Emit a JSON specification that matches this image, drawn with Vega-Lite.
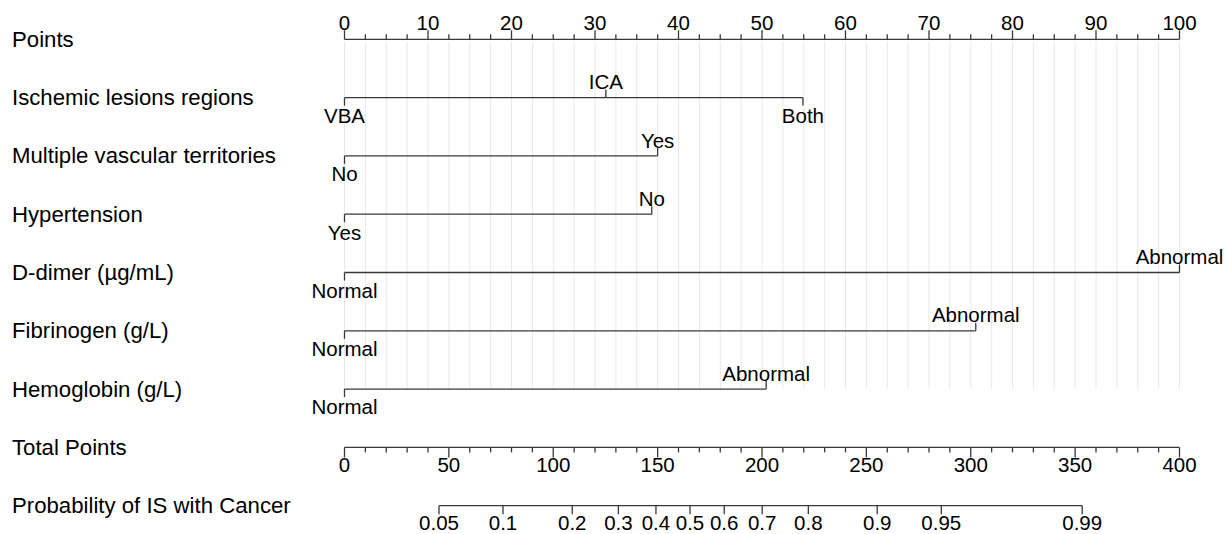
{
  "$schema": "https://vega.github.io/schema/vega-lite/v6.json",
  "width": 835,
  "height": 466.4,
  "autosize": {"type": "none"},
  "padding": {"left": 344.5, "top": 39.3, "right": 46.5, "bottom": 28.3},
  "background": "white",
  "config": {"view": {"stroke": null}, "font": "Liberation Sans"},
  "datasets": {
    "pts": [
      {"row": "Points", "end": "Hemoglobin (g/L)", "v": 0, "major": true},
      {"row": "Points", "end": "Hemoglobin (g/L)", "v": 2.5, "major": false},
      {"row": "Points", "end": "Hemoglobin (g/L)", "v": 5, "major": false},
      {"row": "Points", "end": "Hemoglobin (g/L)", "v": 7.5, "major": false},
      {"row": "Points", "end": "Hemoglobin (g/L)", "v": 10, "major": true},
      {"row": "Points", "end": "Hemoglobin (g/L)", "v": 12.5, "major": false},
      {"row": "Points", "end": "Hemoglobin (g/L)", "v": 15, "major": false},
      {"row": "Points", "end": "Hemoglobin (g/L)", "v": 17.5, "major": false},
      {"row": "Points", "end": "Hemoglobin (g/L)", "v": 20, "major": true},
      {"row": "Points", "end": "Hemoglobin (g/L)", "v": 22.5, "major": false},
      {"row": "Points", "end": "Hemoglobin (g/L)", "v": 25, "major": false},
      {"row": "Points", "end": "Hemoglobin (g/L)", "v": 27.5, "major": false},
      {"row": "Points", "end": "Hemoglobin (g/L)", "v": 30, "major": true},
      {"row": "Points", "end": "Hemoglobin (g/L)", "v": 32.5, "major": false},
      {"row": "Points", "end": "Hemoglobin (g/L)", "v": 35, "major": false},
      {"row": "Points", "end": "Hemoglobin (g/L)", "v": 37.5, "major": false},
      {"row": "Points", "end": "Hemoglobin (g/L)", "v": 40, "major": true},
      {"row": "Points", "end": "Hemoglobin (g/L)", "v": 42.5, "major": false},
      {"row": "Points", "end": "Hemoglobin (g/L)", "v": 45, "major": false},
      {"row": "Points", "end": "Hemoglobin (g/L)", "v": 47.5, "major": false},
      {"row": "Points", "end": "Hemoglobin (g/L)", "v": 50, "major": true},
      {"row": "Points", "end": "Hemoglobin (g/L)", "v": 52.5, "major": false},
      {"row": "Points", "end": "Hemoglobin (g/L)", "v": 55, "major": false},
      {"row": "Points", "end": "Hemoglobin (g/L)", "v": 57.5, "major": false},
      {"row": "Points", "end": "Hemoglobin (g/L)", "v": 60, "major": true},
      {"row": "Points", "end": "Hemoglobin (g/L)", "v": 62.5, "major": false},
      {"row": "Points", "end": "Hemoglobin (g/L)", "v": 65, "major": false},
      {"row": "Points", "end": "Hemoglobin (g/L)", "v": 67.5, "major": false},
      {"row": "Points", "end": "Hemoglobin (g/L)", "v": 70, "major": true},
      {"row": "Points", "end": "Hemoglobin (g/L)", "v": 72.5, "major": false},
      {"row": "Points", "end": "Hemoglobin (g/L)", "v": 75, "major": false},
      {"row": "Points", "end": "Hemoglobin (g/L)", "v": 77.5, "major": false},
      {"row": "Points", "end": "Hemoglobin (g/L)", "v": 80, "major": true},
      {"row": "Points", "end": "Hemoglobin (g/L)", "v": 82.5, "major": false},
      {"row": "Points", "end": "Hemoglobin (g/L)", "v": 85, "major": false},
      {"row": "Points", "end": "Hemoglobin (g/L)", "v": 87.5, "major": false},
      {"row": "Points", "end": "Hemoglobin (g/L)", "v": 90, "major": true},
      {"row": "Points", "end": "Hemoglobin (g/L)", "v": 92.5, "major": false},
      {"row": "Points", "end": "Hemoglobin (g/L)", "v": 95, "major": false},
      {"row": "Points", "end": "Hemoglobin (g/L)", "v": 97.5, "major": false},
      {"row": "Points", "end": "Hemoglobin (g/L)", "v": 100, "major": true}
    ],
    "lines": [
      {"row": "Points", "a": 0, "b": 100},
      {"row": "Ischemic lesions regions", "a": 0, "b": 54.9},
      {"row": "Multiple vascular territories", "a": 0, "b": 37.5},
      {"row": "Hypertension", "a": 0, "b": 36.8},
      {"row": "D-dimer (µg/mL)", "a": 0, "b": 100},
      {"row": "Fibrinogen (g/L)", "a": 0, "b": 75.6},
      {"row": "Hemoglobin (g/L)", "a": 0, "b": 50.5}
    ],
    "cats": [
      {"row": "Ischemic lesions regions", "v": 0, "label": "VBA", "pos": "below"},
      {"row": "Ischemic lesions regions", "v": 31.3, "label": "ICA", "pos": "above"},
      {"row": "Ischemic lesions regions", "v": 54.9, "label": "Both", "pos": "below"},
      {"row": "Multiple vascular territories", "v": 0, "label": "No", "pos": "below"},
      {"row": "Multiple vascular territories", "v": 37.5, "label": "Yes", "pos": "above"},
      {"row": "Hypertension", "v": 0, "label": "Yes", "pos": "below"},
      {"row": "Hypertension", "v": 36.8, "label": "No", "pos": "above"},
      {"row": "D-dimer (µg/mL)", "v": 0, "label": "Normal", "pos": "below"},
      {"row": "D-dimer (µg/mL)", "v": 100, "label": "Abnormal", "pos": "above"},
      {"row": "Fibrinogen (g/L)", "v": 0, "label": "Normal", "pos": "below"},
      {"row": "Fibrinogen (g/L)", "v": 75.6, "label": "Abnormal", "pos": "above"},
      {"row": "Hemoglobin (g/L)", "v": 0, "label": "Normal", "pos": "below"},
      {"row": "Hemoglobin (g/L)", "v": 50.5, "label": "Abnormal", "pos": "above"}
    ],
    "lines2": [
      {"row": "Total Points", "a": 0, "b": 400},
      {"row": "Probability of IS with Cancer", "a": 45.27, "b": 353.4}
    ],
    "tot": [
      {"row": "Total Points", "v": 0, "major": true},
      {"row": "Total Points", "v": 10, "major": false},
      {"row": "Total Points", "v": 20, "major": false},
      {"row": "Total Points", "v": 30, "major": false},
      {"row": "Total Points", "v": 40, "major": false},
      {"row": "Total Points", "v": 50, "major": true},
      {"row": "Total Points", "v": 60, "major": false},
      {"row": "Total Points", "v": 70, "major": false},
      {"row": "Total Points", "v": 80, "major": false},
      {"row": "Total Points", "v": 90, "major": false},
      {"row": "Total Points", "v": 100, "major": true},
      {"row": "Total Points", "v": 110, "major": false},
      {"row": "Total Points", "v": 120, "major": false},
      {"row": "Total Points", "v": 130, "major": false},
      {"row": "Total Points", "v": 140, "major": false},
      {"row": "Total Points", "v": 150, "major": true},
      {"row": "Total Points", "v": 160, "major": false},
      {"row": "Total Points", "v": 170, "major": false},
      {"row": "Total Points", "v": 180, "major": false},
      {"row": "Total Points", "v": 190, "major": false},
      {"row": "Total Points", "v": 200, "major": true},
      {"row": "Total Points", "v": 210, "major": false},
      {"row": "Total Points", "v": 220, "major": false},
      {"row": "Total Points", "v": 230, "major": false},
      {"row": "Total Points", "v": 240, "major": false},
      {"row": "Total Points", "v": 250, "major": true},
      {"row": "Total Points", "v": 260, "major": false},
      {"row": "Total Points", "v": 270, "major": false},
      {"row": "Total Points", "v": 280, "major": false},
      {"row": "Total Points", "v": 290, "major": false},
      {"row": "Total Points", "v": 300, "major": true},
      {"row": "Total Points", "v": 310, "major": false},
      {"row": "Total Points", "v": 320, "major": false},
      {"row": "Total Points", "v": 330, "major": false},
      {"row": "Total Points", "v": 340, "major": false},
      {"row": "Total Points", "v": 350, "major": true},
      {"row": "Total Points", "v": 360, "major": false},
      {"row": "Total Points", "v": 370, "major": false},
      {"row": "Total Points", "v": 380, "major": false},
      {"row": "Total Points", "v": 390, "major": false},
      {"row": "Total Points", "v": 400, "major": true}
    ],
    "prob": [
      {"row": "Probability of IS with Cancer", "v": 45.27, "label": "0.05"},
      {"row": "Probability of IS with Cancer", "v": 75.93, "label": "0.1"},
      {"row": "Probability of IS with Cancer", "v": 109.1, "label": "0.2"},
      {"row": "Probability of IS with Cancer", "v": 131.2, "label": "0.3"},
      {"row": "Probability of IS with Cancer", "v": 149.2, "label": "0.4"},
      {"row": "Probability of IS with Cancer", "v": 165.5, "label": "0.5"},
      {"row": "Probability of IS with Cancer", "v": 181.9, "label": "0.6"},
      {"row": "Probability of IS with Cancer", "v": 200.1, "label": "0.7"},
      {"row": "Probability of IS with Cancer", "v": 222.2, "label": "0.8"},
      {"row": "Probability of IS with Cancer", "v": 255.2, "label": "0.9"},
      {"row": "Probability of IS with Cancer", "v": 285.9, "label": "0.95"},
      {"row": "Probability of IS with Cancer", "v": 353.4, "label": "0.99"}
    ]
  },
  "encoding": {
    "y": {
      "field": "row",
      "type": "ordinal",
      "sort": null,
      "title": null,
      "scale": {
        "type": "point",
        "padding": 0,
        "domain": ["Points", "Ischemic lesions regions", "Multiple vascular territories", "Hypertension", "D-dimer (µg/mL)", "Fibrinogen (g/L)", "Hemoglobin (g/L)", "Total Points", "Probability of IS with Cancer"]
      },
      "axis": {
        "orient": "left",
        "domain": false,
        "ticks": false,
        "tickSize": 0,
        "grid": false,
        "labelPadding": 333,
        "labelAlign": "left",
        "labelBaseline": "middle",
        "labelFont": "Liberation Sans",
        "labelFontSize": 22.2,
        "labelColor": "#000000",
        "labelLimit": 0,
        "labelOverlap": false,
        "title": null
      }
    }
  },
  "layer": [
    {
      "layer": [
        {
          "data": {"name": "pts"},
          "mark": {"type": "rule", "color": "#e8e8e8", "strokeWidth": 1, "yOffset": 2.4},
          "encoding": {
            "x": {"field": "v", "type": "quantitative", "scale": {"domain": [0, 100], "nice": false, "zero": false}, "axis": null},
            "y2": {"field": "end"}
          }
        },
        {
          "data": {"name": "lines"},
          "mark": {"type": "rule", "color": "#383838", "strokeWidth": 1.3},
          "encoding": {
            "x": {"field": "a", "type": "quantitative", "scale": {"domain": [0, 100], "nice": false, "zero": false}, "axis": null},
            "x2": {"field": "b"}
          }
        },
        {
          "data": {"name": "pts"},
          "transform": [{"filter": "datum.major"}],
          "mark": {"type": "rule", "color": "#383838", "strokeWidth": 1.3, "y2Offset": -9},
          "encoding": {
            "x": {"field": "v", "type": "quantitative", "scale": {"domain": [0, 100], "nice": false, "zero": false}, "axis": null},
            "y2": {"field": "row"}
          }
        },
        {
          "data": {"name": "pts"},
          "transform": [{"filter": "!datum.major"}],
          "mark": {"type": "rule", "color": "#383838", "strokeWidth": 1.3, "y2Offset": -5},
          "encoding": {
            "x": {"field": "v", "type": "quantitative", "scale": {"domain": [0, 100], "nice": false, "zero": false}, "axis": null},
            "y2": {"field": "row"}
          }
        },
        {
          "data": {"name": "pts"},
          "transform": [{"filter": "datum.major"}],
          "mark": {"type": "text", "fontSize": 20.5, "font": "Liberation Sans", "color": "#000000", "align": "center", "baseline": "alphabetic", "dy": -9.3},
          "encoding": {
            "x": {"field": "v", "type": "quantitative", "scale": {"domain": [0, 100], "nice": false, "zero": false}, "axis": null},
            "text": {"field": "v", "type": "quantitative"}
          }
        },
        {
          "data": {"name": "cats"},
          "transform": [{"filter": "datum.pos === 'above'"}],
          "mark": {"type": "rule", "color": "#383838", "strokeWidth": 1.3, "y2Offset": -8},
          "encoding": {
            "x": {"field": "v", "type": "quantitative", "scale": {"domain": [0, 100], "nice": false, "zero": false}, "axis": null},
            "y2": {"field": "row"}
          }
        },
        {
          "data": {"name": "cats"},
          "transform": [{"filter": "datum.pos === 'below'"}],
          "mark": {"type": "rule", "color": "#383838", "strokeWidth": 1.3, "y2Offset": 8},
          "encoding": {
            "x": {"field": "v", "type": "quantitative", "scale": {"domain": [0, 100], "nice": false, "zero": false}, "axis": null},
            "y2": {"field": "row"}
          }
        },
        {
          "data": {"name": "cats"},
          "transform": [{"filter": "datum.pos === 'above'"}],
          "mark": {"type": "text", "fontSize": 20.5, "font": "Liberation Sans", "color": "#000000", "align": "center", "baseline": "alphabetic", "dy": -8.4},
          "encoding": {
            "x": {"field": "v", "type": "quantitative", "scale": {"domain": [0, 100], "nice": false, "zero": false}, "axis": null},
            "text": {"field": "label"}
          }
        },
        {
          "data": {"name": "cats"},
          "transform": [{"filter": "datum.pos === 'below'"}],
          "mark": {"type": "text", "fontSize": 20.5, "font": "Liberation Sans", "color": "#000000", "align": "center", "baseline": "alphabetic", "dy": 25.3},
          "encoding": {
            "x": {"field": "v", "type": "quantitative", "scale": {"domain": [0, 100], "nice": false, "zero": false}, "axis": null},
            "text": {"field": "label"}
          }
        }
      ]
    },
    {
      "layer": [
        {
          "data": {"name": "lines2"},
          "mark": {"type": "rule", "color": "#383838", "strokeWidth": 1.3},
          "encoding": {
            "x": {"field": "a", "type": "quantitative", "scale": {"domain": [0, 400], "nice": false, "zero": false}, "axis": null},
            "x2": {"field": "b"}
          }
        },
        {
          "data": {"name": "tot"},
          "transform": [{"filter": "datum.major"}],
          "mark": {"type": "rule", "color": "#383838", "strokeWidth": 1.3, "y2Offset": 10},
          "encoding": {
            "x": {"field": "v", "type": "quantitative", "scale": {"domain": [0, 400], "nice": false, "zero": false}, "axis": null},
            "y2": {"field": "row"}
          }
        },
        {
          "data": {"name": "tot"},
          "transform": [{"filter": "!datum.major"}],
          "mark": {"type": "rule", "color": "#383838", "strokeWidth": 1.3, "y2Offset": 5},
          "encoding": {
            "x": {"field": "v", "type": "quantitative", "scale": {"domain": [0, 400], "nice": false, "zero": false}, "axis": null},
            "y2": {"field": "row"}
          }
        },
        {
          "data": {"name": "tot"},
          "transform": [{"filter": "datum.major"}],
          "mark": {"type": "text", "fontSize": 20.5, "font": "Liberation Sans", "color": "#000000", "align": "center", "baseline": "alphabetic", "dy": 24.6},
          "encoding": {
            "x": {"field": "v", "type": "quantitative", "scale": {"domain": [0, 400], "nice": false, "zero": false}, "axis": null},
            "text": {"field": "v", "type": "quantitative"}
          }
        },
        {
          "data": {"name": "prob"},
          "mark": {"type": "rule", "color": "#383838", "strokeWidth": 1.3, "y2Offset": 8.5},
          "encoding": {
            "x": {"field": "v", "type": "quantitative", "scale": {"domain": [0, 400], "nice": false, "zero": false}, "axis": null},
            "y2": {"field": "row"}
          }
        },
        {
          "data": {"name": "prob"},
          "mark": {"type": "text", "fontSize": 20.5, "font": "Liberation Sans", "color": "#000000", "align": "center", "baseline": "alphabetic", "dy": 24.3},
          "encoding": {
            "x": {"field": "v", "type": "quantitative", "scale": {"domain": [0, 400], "nice": false, "zero": false}, "axis": null},
            "text": {"field": "label"}
          }
        }
      ]
    }
  ],
  "resolve": {"scale": {"x": "independent"}}
}
